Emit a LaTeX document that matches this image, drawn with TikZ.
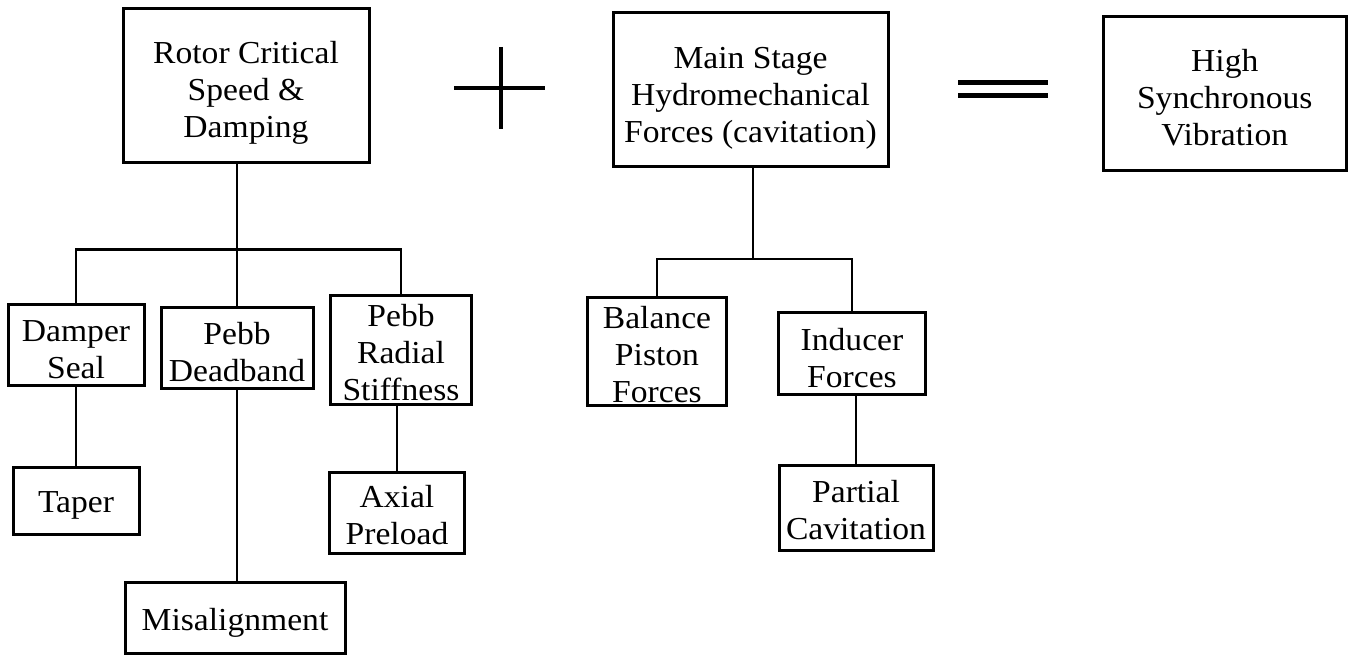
\documentclass[tikz,border=0pt]{standalone}
\usepackage{fontspec}
\setmainfont{Liberation Serif}[FakeStretch=1.05]
\usetikzlibrary{calc}
\begin{document}
\begin{tikzpicture}[x=1pt,y=-1pt,
  box/.style={draw, line width=3pt, inner sep=0pt},
  txt/.style={align=center, inner sep=0pt,
    font=\fontsize{32}{37}\selectfont},
  link/.style={line width=2.2pt},
  opsign/.style={line width=3.2pt},
  eqsign/.style={line width=5pt}]
\useasboundingbox (0,0) rectangle (1348,655);

% top row: cause + cause = effect
\node[box, minimum width=246pt, minimum height=154pt,
  label={[name=rotor-t, txt, yshift=-7pt]center:{Rotor Critical\\Speed \&\\Damping}}]
  (rotor) at (246,86) {};
\node[box, minimum width=275pt, minimum height=154pt,
  label={[name=main-t, txt, yshift=-8pt]center:{Main Stage\\Hydromechanical\\Forces (cavitation)}}]
  (main) at (750.5,90) {};
\node[box, minimum width=243.5pt, minimum height=154pt,
  label={[name=high-t, txt, yshift=-4pt]center:{High\\Synchronous\\Vibration}}]
  (high) at (1224.75,94) {};

% plus and equals operators
\coordinate (plus) at (501,88);
\draw[opsign] ($(plus)+(-47,0)$) -- ($(plus)+(44,0)$);
\draw[opsign] ($(plus)+(0,-41)$) -- ($(plus)+(0,41)$);
\coordinate (equal) at (1003,89);
\draw[eqsign] ($(equal)+(-45,-6.5)$) -- ($(equal)+(45,-6.5)$);
\draw[eqsign] ($(equal)+(-45,7)$) -- ($(equal)+(45,7)$);

% rotor branch
\node[box, minimum width=136pt, minimum height=81pt,
  label={[name=damper-t, txt, yshift=-5pt]center:{Damper\\Seal}}]
  (damper) at (76,344.5) {};
\node[box, minimum width=152pt, minimum height=81pt,
  label={[name=deadband-t, txt, yshift=-5pt]center:{Pebb\\Deadband}}]
  (deadband) at (237,347.5) {};
\node[box, minimum width=141pt, minimum height=109pt,
  label={[name=radial-t, txt, yshift=-3pt]center:{Pebb\\Radial\\Stiffness}}]
  (radial) at (401,349.5) {};
\node[box, minimum width=126pt, minimum height=67pt,
  label={[name=taper-t, txt, yshift=-5pt]center:{Taper}}]
  (taper) at (76,500.5) {};
\node[box, minimum width=135pt, minimum height=81pt,
  label={[name=axial-t, txt, yshift=-3pt]center:{Axial\\Preload}}]
  (axial) at (397,512.5) {};
\node[box, minimum width=220pt, minimum height=71pt,
  label={[name=misalign-t, txt, yshift=-5pt]center:{Misalignment}}]
  (misalign) at (235,617.5) {};

\coordinate (rbus) at (237,249.5);
\draw[link] (rotor.south -| deadband.north) -- (deadband.north);
\draw[link] (damper.north) |- (rbus) -| (radial.north);
\draw[link] (damper.south) -- (taper.north);
\draw[link] (deadband.south) -- (misalign.north -| deadband.south);
\draw[link] (radial.south -| axial.north) -- (axial.north);

% main stage branch
\node[box, minimum width=139pt, minimum height=108pt,
  label={[name=balance-t, txt, yshift=-4pt]center:{Balance\\Piston\\Forces}}]
  (balance) at (657,351) {};
\node[box, minimum width=147pt, minimum height=82pt,
  label={[name=inducer-t, txt, yshift=-5pt]center:{Inducer\\Forces}}]
  (inducer) at (852,353) {};
\node[box, minimum width=154pt, minimum height=85pt,
  label={[name=partial-t, txt, yshift=-3pt]center:{Partial\\Cavitation}}]
  (partial) at (856,507.5) {};

\coordinate (mbus) at (753,259);
\draw[link] (main.south -| mbus) -- (mbus);
\draw[link] (balance.north) |- (mbus) -| (inducer.north);
\draw[link] (inducer.south -| partial.north) -- (partial.north);
\end{tikzpicture}
\end{document}
